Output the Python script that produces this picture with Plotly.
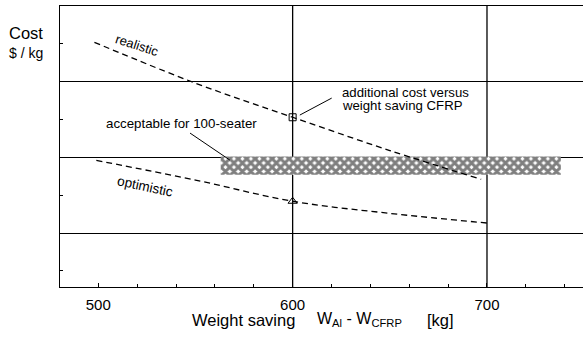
import plotly.graph_objects as go

# ---- data ----
realistic_x = [498, 550, 600, 650, 697]
realistic_y = [3.52, 2.98, 2.53, 2.09, 1.71]
optimistic_x = [499, 550, 600, 650, 701]
optimistic_y = [1.96, 1.70, 1.42, 1.26, 1.13]
marker_square = (600, 2.53)
marker_triangle = (600, 1.42)
band_x = [563, 738]
band_y = [1.77, 2.01]
x_ticks = [500, 600, 700]
x_grid = [600, 700]
y_grid = [1, 2, 3]

FONT = "Liberation Sans, Arial, sans-serif"

fig = go.Figure()

# hatched band "acceptable for 100-seater"
fig.add_trace(go.Scatter(
    x=[band_x[0], band_x[1], band_x[1], band_x[0], band_x[0]],
    y=[band_y[0], band_y[0], band_y[1], band_y[1], band_y[0]],
    mode="lines", fill="toself", line=dict(width=0, color="rgba(0,0,0,0)"),
    fillcolor="white",
    fillpattern=dict(shape="x", fgcolor="black", bgcolor="white", size=6, solidity=0.75),
    hoverinfo="skip", showlegend=False))

# curves
fig.add_trace(go.Scatter(x=realistic_x, y=realistic_y, mode="lines",
                         line=dict(color="black", width=1.3, dash="6px,4px", shape="spline"),
                         showlegend=False))
fig.add_trace(go.Scatter(x=optimistic_x, y=optimistic_y, mode="lines",
                         line=dict(color="black", width=1.3, dash="6px,4px", shape="spline"),
                         showlegend=False))
fig.add_trace(go.Scatter(x=[marker_square[0]], y=[marker_square[1]], mode="markers",
                         marker=dict(symbol="square-open", size=7, color="black", line=dict(width=1)),
                         showlegend=False))
fig.add_trace(go.Scatter(x=[marker_triangle[0]], y=[marker_triangle[1]], mode="markers",
                         marker=dict(symbol="triangle-up-open", size=8, color="black", line=dict(width=1)),
                         showlegend=False))

shapes = []
for gx in x_grid:
    shapes.append(dict(type="line", xref="x", yref="paper", x0=gx, x1=gx, y0=0, y1=1,
                       line=dict(color="black", width=1.3), layer="below"))
# leader lines
shapes.append(dict(type="line", xref="x", yref="y", x0=547.2, y0=2.321, x1=567.7, y1=1.964,
                   line=dict(color="black", width=1)))
shapes.append(dict(type="line", xref="x", yref="y", x0=603.7, y0=2.559, x1=620.1, y1=2.783,
                   line=dict(color="black", width=1)))


def ann(text, x, y, size, ref="data", xanchor="center", angle=0):
    r = dict(xref="x", yref="y") if ref == "data" else dict(xref="paper", yref="paper")
    return dict(text=text, x=x, y=y, showarrow=False, xanchor=xanchor, yanchor="middle",
                textangle=angle, font=dict(size=size, family=FONT, color="black"), **r)


annotations = [
    ann("Cost", -0.065, 0.904, 16.5, ref="paper"),
    ann("$ / kg", -0.065, 0.833, 14, ref="paper"),
    ann("Weight saving", 0.2486, -0.117, 16.5, ref="paper", xanchor="left"),
    ann("W<sub>Al</sub> - W<sub>CFRP</sub>", 0.4876, -0.117, 16, ref="paper", xanchor="left"),
    ann("[kg]", 0.698, -0.117, 16.5, ref="paper", xanchor="left"),
    ann("realistic", 520.4, 3.483, 13, angle=18),
    ann("optimistic", 524.1, 1.621, 13.5, angle=12),
    ann("acceptable for 100-seater", 543.0, 2.453, 13.3),
    ann("additional cost versus", 624.5, 2.86, 13.2, xanchor="left"),
    ann("weight saving CFRP", 624.5, 2.69, 13.2, xanchor="left"),
]

fig.update_layout(
    width=583, height=337,
    margin=dict(l=60, r=0, t=6, b=50),
    paper_bgcolor="white", plot_bgcolor="white",
    font=dict(family=FONT, color="black"),
    shapes=shapes, annotations=annotations,
    xaxis=dict(range=[480.3, 749.4], tickvals=x_ticks, ticktext=[str(v) for v in x_ticks],
               ticks="inside", ticklen=4, tickcolor="black", showgrid=False, zeroline=False,
               showline=True, linecolor="black", linewidth=1.3, mirror=True,
               ticklabelstandoff=4,
               tickfont=dict(size=15, family=FONT, color="black"),
               minor=dict(dtick=20, tick0=500, ticks="inside", ticklen=3, tickcolor="black", showgrid=False)),
    yaxis=dict(range=[0.287, 4.0], tickvals=y_grid, showticklabels=False,
               ticks="inside", ticklen=3, tickcolor="black", showgrid=True, gridcolor="black",
               gridwidth=1.3, zeroline=False, showline=True, linecolor="black", linewidth=1.3,
               minor=dict(dtick=0.5, tick0=0.5, ticks="inside", ticklen=3, tickcolor="black", showgrid=False)),
)

fig.write_html("out.html", config={"displayModeBar": False},
               post_script="document.body.style.margin='0';document.body.style.overflow='hidden';")
